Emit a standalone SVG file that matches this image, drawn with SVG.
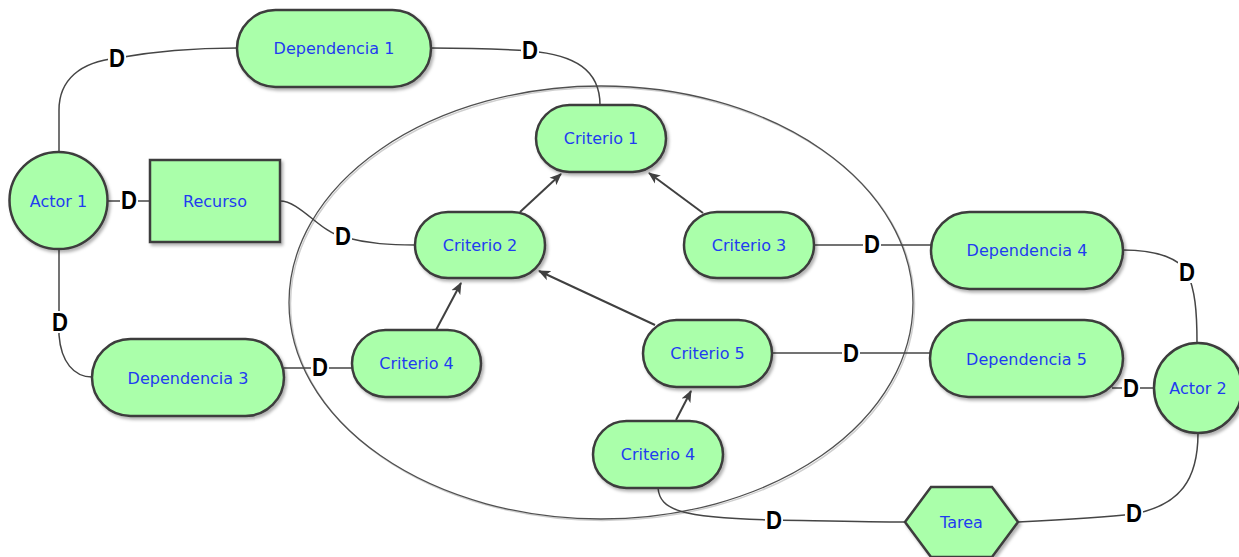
<svg xmlns="http://www.w3.org/2000/svg" width="1239" height="557" viewBox="0 0 1239 557">
<style>
.node{fill:#aaffaa;stroke:#3c3c3c;stroke-width:2.5;filter:url(#sh)}
.lbl{font-family:"DejaVu Sans",sans-serif;font-size:16px;fill:#1f3cf0;text-anchor:middle}
.con{fill:none;stroke:#454545;stroke-width:1.5}
.arr{fill:none;stroke:#404040;stroke-width:2;marker-end:url(#ah)}
.d{font-family:"Liberation Sans",Arial,sans-serif;font-weight:bold;font-size:26px;fill:#000;text-anchor:middle}
.bg{fill:#fff}
</style>
<defs>
<filter id="sh" x="-20%" y="-20%" width="140%" height="150%">
<feDropShadow dx="2" dy="2.5" stdDeviation="1.5" flood-color="#000" flood-opacity="0.3"/>
</filter>
<marker id="ah" markerWidth="12" markerHeight="12" viewBox="0 0 12 12" refX="11" refY="6" orient="auto" markerUnits="userSpaceOnUse">
<path d="M0,1 L12,6 L0,11 L3,6 Z" fill="#404040"/>
</marker>
</defs>
<rect width="1239" height="557" fill="#fff"/>
<g id="boundary">
<ellipse cx="602.5" cy="304" rx="312" ry="216.5" fill="none" stroke="#cfcfcf" stroke-width="1.5"/>
<ellipse cx="601" cy="302.5" rx="312" ry="216.5" fill="none" stroke="#505050" stroke-width="1.3"/>
</g>
<g id="connectors">
<path class="con" d="M59,152 V110 C59,80 80,62 117,58 C150,52 190,48 237,48"/>
<path class="con" d="M431,48 C470,48 500,49 530,51 C575,55 600,70 600,105"/>
<path class="con" d="M107,201 H150"/>
<path class="con" d="M280,201 C300,201 320,232 343,237 C370,244 390,245 415,245"/>
<path class="con" d="M59,249 V335 C61,362 74,377 92,377"/>
<path class="con" d="M284,368 H352"/>
<path class="con" d="M814,245 H931"/>
<path class="con" d="M1123,250 C1160,250 1180,260 1187,272 C1195,290 1197,310 1197,343"/>
<path class="con" d="M772,353 H930"/>
<path class="con" d="M1112,388 H1154"/>
<path class="con" d="M658,488 C660,510 680,518 774,520 C830,521 870,522 905,522"/>
<path class="con" d="M1018,522 C1060,520 1100,518 1134,514 C1180,505 1198,480 1198,433"/>
<path class="arr" d="M520,212 L561,174"/>
<path class="arr" d="M703,213 L649,173"/>
<path class="arr" d="M436,330 L461,283"/>
<path class="arr" d="M655,325 L539,271"/>
<path class="arr" d="M676,420 L691,391"/>
<rect class="bg" x="108" y="47" width="18" height="22"/><text class="d" x="117" y="67" textLength="16" lengthAdjust="spacingAndGlyphs">D</text>
<rect class="bg" x="521" y="39" width="18" height="22"/><text class="d" x="530" y="59" textLength="16" lengthAdjust="spacingAndGlyphs">D</text>
<rect class="bg" x="120" y="189" width="18" height="22"/><text class="d" x="129" y="209" textLength="16" lengthAdjust="spacingAndGlyphs">D</text>
<rect class="bg" x="334" y="225" width="18" height="22"/><text class="d" x="343" y="245" textLength="16" lengthAdjust="spacingAndGlyphs">D</text>
<rect class="bg" x="51" y="311" width="18" height="22"/><text class="d" x="60" y="331" textLength="16" lengthAdjust="spacingAndGlyphs">D</text>
<rect class="bg" x="311" y="356" width="18" height="22"/><text class="d" x="320" y="376" textLength="16" lengthAdjust="spacingAndGlyphs">D</text>
<rect class="bg" x="863" y="233" width="18" height="22"/><text class="d" x="872" y="253" textLength="16" lengthAdjust="spacingAndGlyphs">D</text>
<rect class="bg" x="1178" y="261" width="18" height="22"/><text class="d" x="1187" y="281" textLength="16" lengthAdjust="spacingAndGlyphs">D</text>
<rect class="bg" x="842" y="342" width="18" height="22"/><text class="d" x="851" y="362" textLength="16" lengthAdjust="spacingAndGlyphs">D</text>
<rect class="bg" x="1122" y="377" width="18" height="22"/><text class="d" x="1131" y="397" textLength="16" lengthAdjust="spacingAndGlyphs">D</text>
<rect class="bg" x="765" y="509" width="18" height="22"/><text class="d" x="774" y="529" textLength="16" lengthAdjust="spacingAndGlyphs">D</text>
<rect class="bg" x="1125" y="502" width="18" height="22"/><text class="d" x="1134" y="522" textLength="16" lengthAdjust="spacingAndGlyphs">D</text>
</g>
<g id="dep1"><rect class="node" x="237" y="10" width="194" height="77" rx="38.5"/><text class="lbl" x="334" y="54">Dependencia 1</text></g>
<g id="actor1"><ellipse class="node" cx="58.5" cy="200.5" rx="49" ry="48.5"/><text class="lbl" x="58.5" y="206.5">Actor 1</text></g>
<g id="recurso"><rect class="node" x="150" y="160" width="130" height="82"/><text class="lbl" x="215" y="206.5">Recurso</text></g>
<g id="crit1"><rect class="node" x="536" y="105" width="130" height="67" rx="33.5"/><text class="lbl" x="601" y="144">Criterio 1</text></g>
<g id="crit2"><rect class="node" x="415" y="212" width="130" height="66" rx="33"/><text class="lbl" x="480" y="250.5">Criterio 2</text></g>
<g id="crit3"><rect class="node" x="684" y="212" width="130" height="66" rx="33"/><text class="lbl" x="749" y="250.5">Criterio 3</text></g>
<g id="dep4"><rect class="node" x="931" y="212" width="192" height="77" rx="38.5"/><text class="lbl" x="1027" y="256">Dependencia 4</text></g>
<g id="dep3"><rect class="node" x="92" y="339" width="192" height="77" rx="38.5"/><text class="lbl" x="188" y="383.5">Dependencia 3</text></g>
<g id="crit4a"><rect class="node" x="352" y="330" width="129" height="67" rx="33.5"/><text class="lbl" x="416.5" y="369">Criterio 4</text></g>
<g id="crit5"><rect class="node" x="643" y="320" width="129" height="67" rx="33.5"/><text class="lbl" x="707.5" y="359">Criterio 5</text></g>
<g id="dep5"><rect class="node" x="930" y="320" width="193" height="77" rx="38.5"/><text class="lbl" x="1026.5" y="364.5">Dependencia 5</text></g>
<g id="actor2"><ellipse class="node" cx="1198" cy="388" rx="44" ry="45"/><text class="lbl" x="1198" y="393.5">Actor 2</text></g>
<g id="crit4b"><rect class="node" x="593" y="421" width="130" height="67" rx="33.5"/><text class="lbl" x="658" y="460">Criterio 4</text></g>
<g id="tarea"><polygon class="node" points="905,522 931,487 992,487 1018,522 992,557 931,557"/><text class="lbl" x="961.5" y="527.5">Tarea</text></g>
</svg>
